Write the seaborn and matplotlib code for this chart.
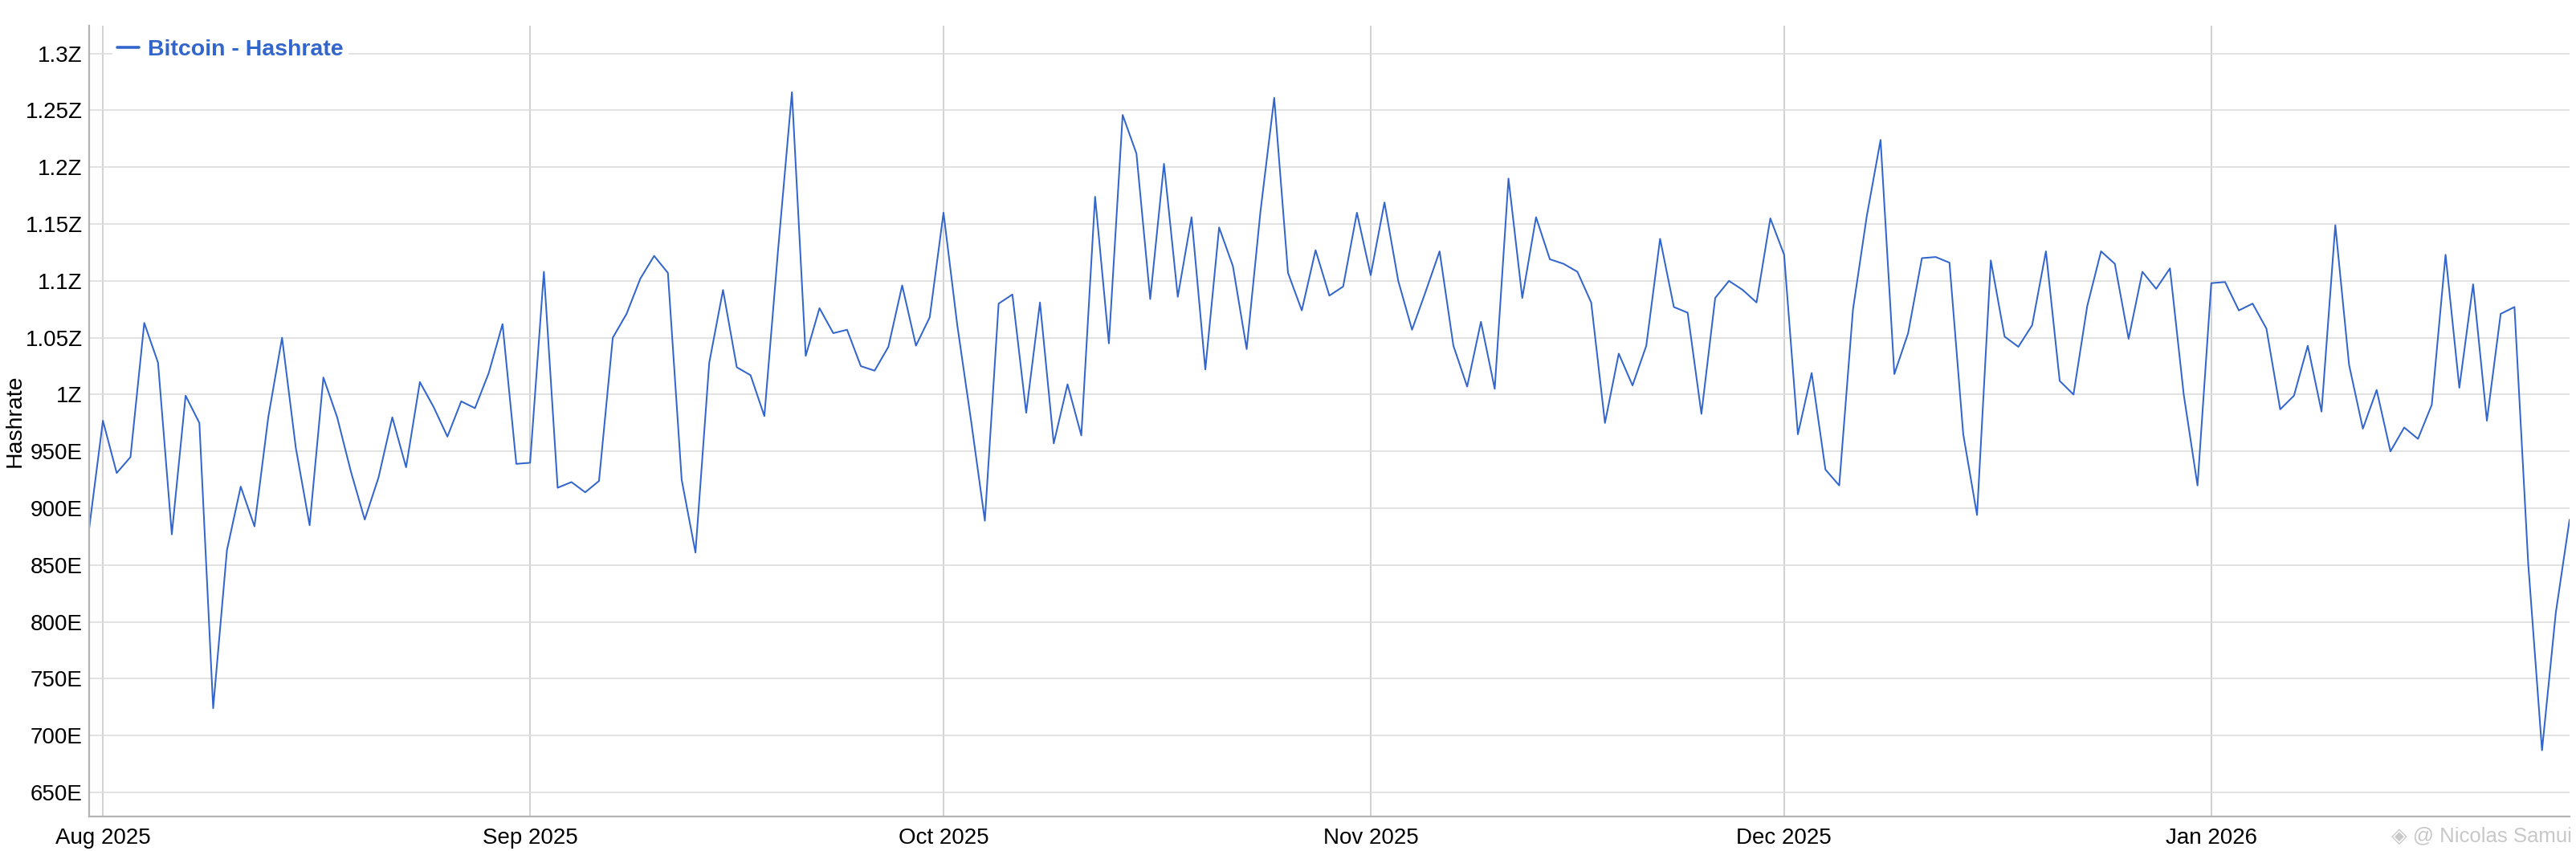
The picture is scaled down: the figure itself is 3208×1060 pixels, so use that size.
import matplotlib
matplotlib.use("Agg")
import matplotlib.pyplot as plt
import matplotlib.dates as mdates
from matplotlib.ticker import FixedLocator, FuncFormatter
import pandas as pd
import seaborn as sns

# ---------------- data ----------------
start_date = "2025-07-31"
series_name = "Bitcoin - Hashrate"
y_label = "Hashrate"
# daily hashrate, in EH/s (E)
hashrate_e = [
    882, 977, 931, 945, 1063, 1028, 877, 999, 975, 724,
    863, 919, 884, 980, 1050, 953, 885, 1015, 980, 932,
    890, 927, 980, 936, 1011, 989, 963, 994, 988, 1019,
    1062, 939, 940, 1108, 918, 923, 914, 924, 1050, 1071,
    1102, 1122, 1107, 925, 861, 1028, 1092, 1024, 1017, 981,
    1128, 1266, 1034, 1076, 1054, 1057, 1025, 1021, 1042, 1096,
    1043, 1068, 1160, 1061, 977, 889, 1080, 1088, 984, 1081,
    957, 1009, 964, 1174, 1045, 1246, 1212, 1084, 1203, 1086,
    1156, 1022, 1147, 1113, 1040, 1161, 1261, 1107, 1074, 1127,
    1087, 1095, 1160, 1105, 1169, 1100, 1057, 1091, 1126, 1043,
    1007, 1064, 1005, 1190, 1085, 1156, 1119, 1115, 1108, 1081,
    975, 1036, 1008, 1043, 1137, 1077, 1072, 983, 1085, 1100,
    1092, 1081, 1155, 1123, 965, 1019, 934, 920, 1075, 1157,
    1224, 1018, 1054, 1120, 1121, 1116, 965, 894, 1118, 1051,
    1042, 1061, 1126, 1012, 1000, 1078, 1126, 1115, 1049, 1108,
    1093, 1111, 1000, 920, 1098, 1099, 1074, 1080, 1058, 987,
    999, 1043, 985, 1149, 1026, 970, 1004, 950, 971, 961,
    991, 1123, 1006, 1097, 977, 1071, 1077, 851, 687, 808,
    890,
]
y_ticks = [650, 700, 750, 800, 850, 900, 950, 1000, 1050, 1100, 1150, 1200, 1250, 1300]
x_ticks = ["2025-08-01", "2025-09-01", "2025-10-01", "2025-11-01", "2025-12-01", "2026-01-01"]
x_tick_labels = ["Aug 2025", "Sep 2025", "Oct 2025", "Nov 2025", "Dec 2025", "Jan 2026"]
watermark = "\u25c8 @ Nicolas Samui"

dates = pd.date_range(start_date, periods=len(hashrate_e), freq="D")
df = pd.DataFrame({"date": dates, "value": hashrate_e, "series": series_name})

# ---------------- style ----------------
sns.set_theme(style="white")
plt.rcParams["font.family"] = ["Liberation Sans", "DejaVu Sans"]

W, H = 3208, 1060
fig = plt.figure(figsize=(W / 100, H / 100), dpi=100)
left_px, right_px, top_px, bottom_px = 111, 3200, 32, 1017
ax = fig.add_axes([left_px / W, 1 - bottom_px / H,
                   (right_px - left_px) / W, (bottom_px - top_px) / H])

line_color = "#3366cc"
sns.lineplot(data=df, x="date", y="value", hue="series", palette=[line_color],
             linewidth=1.45, ax=ax, legend=True)

ax.set_xlim(dates[0], dates[-1])
ax.set_ylim(628.8, 1324.5)

ax.yaxis.set_major_locator(FixedLocator(y_ticks))
def fmt(v, pos):
    if v >= 1000:
        return f"{v / 1000:g}Z"
    return f"{v:g}E"
ax.yaxis.set_major_formatter(FuncFormatter(fmt))

xt = [mdates.date2num(pd.Timestamp(d)) for d in x_ticks]
ax.set_xticks(xt)
ax.set_xticklabels(x_tick_labels)

ax.grid(True, axis="y", color="#dddddd", linewidth=1.2)
ax.grid(True, axis="x", color="#d2d2d2", linewidth=1.5)
ax.set_axisbelow(True)

for s in ["top", "right"]:
    ax.spines[s].set_visible(False)
for s in ["left", "bottom"]:
    ax.spines[s].set_color("#b4b4b4")
    ax.spines[s].set_linewidth(1.6)

ax.tick_params(axis="both", length=0, labelsize=20, colors="#000000")
ax.tick_params(axis="y", pad=6)
ax.tick_params(axis="x", pad=10)

ax.set_xlabel("")
ax.set_ylabel(y_label, fontsize=20.5, color="#000000", labelpad=0)

leg = ax.legend(loc="upper left", bbox_to_anchor=(0.0095, 0.989), frameon=True,
                fancybox=False, framealpha=1.0, edgecolor="white", facecolor="white",
                fontsize=20.5, handlelength=0.95, handletextpad=0.38, borderpad=0.2,
                borderaxespad=0.0, title=None)
for t in leg.get_texts():
    t.set_color(line_color)
    t.set_fontweight("bold")
for h in leg.get_lines():
    h.set_linewidth(2.6)

fig.text(3203 / W, 1 - 1041 / H, watermark, ha="right", va="center",
         fontsize=18.5, color="#c8c8c8")

fig.savefig("out.png", dpi=100, facecolor="white")
